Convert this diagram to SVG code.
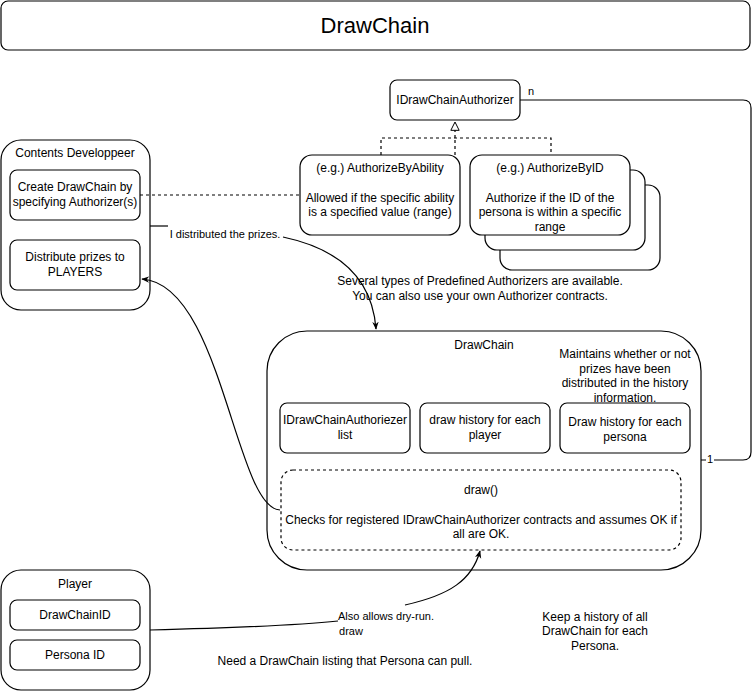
<svg xmlns="http://www.w3.org/2000/svg" width="754" height="691" viewBox="0 0 754 691">
<defs>
<marker id="arr" viewBox="0 0 10 10" refX="9" refY="5" markerWidth="8" markerHeight="8" orient="auto" markerUnits="userSpaceOnUse">
<path d="M0,1 L10,5 L0,9 L3,5 Z" fill="#000"/>
</marker>
<marker id="tri" viewBox="0 0 12 12" refX="11" refY="6" markerWidth="10" markerHeight="10" orient="auto" markerUnits="userSpaceOnUse">
<path d="M1,1 L11,6 L1,11 Z" fill="#fff" stroke="#000" stroke-width="1.2"/>
</marker>
</defs>
<style>
.box{fill:#fff;stroke:#000;stroke-width:1.2}
.dbox{fill:#fff;stroke:#000;stroke-width:1.2;stroke-dasharray:3 3}
.t{font-family:"Liberation Sans",Arial,sans-serif;font-size:12px;fill:#000;text-anchor:middle}
.s{font-family:"Liberation Sans",Arial,sans-serif;font-size:11px;fill:#000;text-anchor:middle}
.ln{fill:none;stroke:#000;stroke-width:1.2}
.dl{fill:none;stroke:#000;stroke-width:1.2;stroke-dasharray:3 3}
</style>
<rect width="754" height="691" fill="#fff"/>

<g id="title">
<rect class="box" x="1" y="1" width="749" height="49" rx="7"/>
<text class="t" x="375" y="33" style="font-size:22px">DrawChain</text>
</g>

<g id="idrawchainauthorizer">
<rect class="box" x="390" y="80" width="130" height="40" rx="7"/>
<text class="t" x="455" y="104">IDrawChainAuthorizer</text>
</g>

<g id="authorizebyability">
<rect class="box" x="300" y="155" width="160" height="80" rx="12"/>
<text class="t" x="380" y="172">(e.g.) AuthorizeByAbility</text>
<text class="t" x="380" y="202">Allowed if the specific ability</text>
<text class="t" x="380" y="216">is a specified value (range)</text>
</g>

<g id="authorizebyid">
<rect class="box" x="500" y="185" width="160" height="85" rx="12"/>
<rect class="box" x="485" y="170" width="160" height="80" rx="12"/>
<rect class="box" x="470" y="155" width="160" height="80" rx="12"/>
<text class="t" x="550" y="172">(e.g.) AuthorizeByID</text>
<text class="t" x="550" y="202">Authorize if the ID of the</text>
<text class="t" x="550" y="216">persona is within a specific</text>
<text class="t" x="550" y="231">range</text>
</g>

<g id="note-authorizers">
<text class="t" x="480" y="285">Several types of Predefined Authorizers are available.</text>
<text class="t" x="480" y="300">You can also use your own Authorizer contracts.</text>
</g>

<g id="contents-developer">
<rect class="box" x="1" y="140" width="149" height="170" rx="20"/>
<text class="t" x="75" y="157">Contents Developpeer</text>
<rect class="box" x="10" y="170" width="130" height="50" rx="7"/>
<text class="t" x="75" y="191">Create DrawChain by</text>
<text class="t" x="75" y="206">specifying Authorizer(s)</text>
<rect class="box" x="10" y="240" width="130" height="50" rx="7"/>
<text class="t" x="75" y="261">Distribute prizes to</text>
<text class="t" x="75" y="276">PLAYERS</text>
</g>

<g id="drawchain">
<rect class="box" x="267" y="331" width="434" height="239" rx="40"/>
<text class="t" x="484" y="349">DrawChain</text>
<text class="t" x="625" y="358">Maintains whether or not</text>
<text class="t" x="625" y="373">prizes have been</text>
<text class="t" x="625" y="387">distributed in the history</text>
<text class="t" x="625" y="402">information.</text>
<rect class="box" x="280" y="403" width="130" height="50" rx="7"/>
<text class="t" x="345" y="424">IDrawChainAuthoriezer</text>
<text class="t" x="345" y="439">list</text>
<rect class="box" x="420" y="403" width="130" height="50" rx="7"/>
<text class="t" x="485" y="424">draw history for each</text>
<text class="t" x="485" y="439">player</text>
<rect class="box" x="560" y="403" width="130" height="50" rx="7"/>
<text class="t" x="625" y="426">Draw history for each</text>
<text class="t" x="625" y="441">persona</text>
</g>

<g id="draw-function">
<rect class="dbox" x="281" y="470" width="400" height="80" rx="12"/>
<text class="t" x="481" y="494">draw()</text>
<text class="t" x="481" y="524">Checks for registered IDrawChainAuthorizer contracts and assumes OK if</text>
<text class="t" x="481" y="538">all are OK.</text>
</g>

<g id="player">
<rect class="box" x="1" y="570" width="149" height="120" rx="20"/>
<text class="t" x="75" y="588">Player</text>
<rect class="box" x="10" y="600" width="130" height="30" rx="7"/>
<text class="t" x="75" y="619">DrawChainID</text>
<rect class="box" x="10" y="640" width="130" height="30" rx="7"/>
<text class="t" x="75" y="659">Persona ID</text>
</g>

<g id="notes-bottom">
<text class="t" x="345" y="665">Need a DrawChain listing that Persona can pull.</text>
<text class="t" x="595" y="621">Keep a history of all</text>
<text class="t" x="595" y="635">DrawChain for each</text>
<text class="t" x="595" y="650">Persona.</text>
</g>

<g id="connectors">
<path class="dl" d="M455,155 V138 M381,155 V138 H551 V155"/>
<path class="dl" d="M455,138 V122" marker-end="url(#tri)"/>
<path class="dl" d="M140,195 H300"/>
<path class="ln" d="M520,100 H743 Q751,100 751,108 V452 Q751,460 743,460 H701"/>
<path class="ln" d="M150,226 H168"/>
<path class="ln" d="M283,237 C335,248 372,275 376,329" marker-end="url(#arr)"/>
<path class="ln" d="M280,510 C235,508 222,284 142,279" marker-end="url(#arr)"/>
<path class="ln" d="M150,630 C230,628 300,625 338,621"/>
<path class="ln" d="M405,605 C450,595 472,580 480,551" marker-end="url(#arr)"/>
<text class="s" x="531" y="95">n</text>
<rect x="706" y="452" width="8" height="13" fill="#fff"/>
<text class="s" x="710" y="463">1</text>
<text class="s" x="225" y="238">I distributed the prizes.</text>
<text class="s" x="386" y="620">Also allows dry-run.</text>
<text class="s" x="351" y="635">draw</text>
</g>
</svg>
